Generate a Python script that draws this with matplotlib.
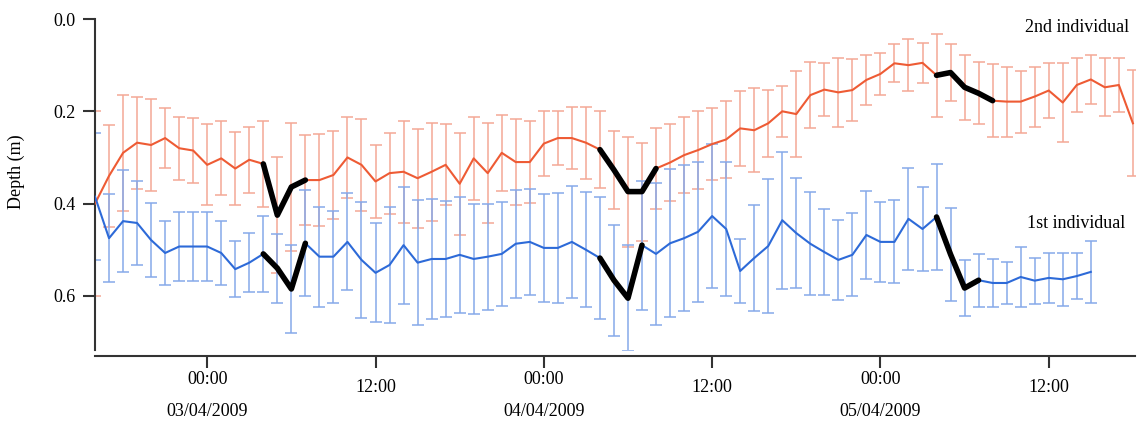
import matplotlib
matplotlib.use("Agg")
import matplotlib.pyplot as plt
import numpy as np

# ---------------- data (hourly, starting 16:00 02/04/2009) ----------------
red_mean = [0.40, 0.34, 0.29, 0.268, 0.273, 0.258, 0.28, 0.285, 0.316, 0.302,
            0.324, 0.305, 0.314, 0.425, 0.364, 0.349, 0.349, 0.338, 0.30, 0.316,
            0.352, 0.334, 0.331, 0.345, 0.331, 0.316, 0.357, 0.302, 0.334, 0.29,
            0.31, 0.31, 0.27, 0.258, 0.258, 0.268, 0.283, 0.327, 0.374, 0.374,
            0.324, 0.311, 0.295, 0.284, 0.271, 0.261, 0.237, 0.241, 0.226, 0.20,
            0.206, 0.165, 0.153, 0.159, 0.154, 0.132, 0.119, 0.096, 0.10, 0.095,
            0.122, 0.116, 0.148, 0.161, 0.177, 0.179, 0.179, 0.168, 0.155, 0.181,
            0.143, 0.131, 0.148, 0.143, 0.226]
red_err = [0.20, 0.11, 0.125, 0.10, 0.10, 0.065, 0.068, 0.07, 0.088, 0.08,
           0.08, 0.072, 0.094, 0.125, 0.138, 0.098, 0.10, 0.095, 0.088, 0.10,
           0.08, 0.088, 0.11, 0.107, 0.106, 0.088, 0.111, 0.09, 0.109, 0.082,
           0.093, 0.088, 0.07, 0.058, 0.068, 0.078, 0.083, 0.084, 0.119, 0.106,
           0.087, 0.083, 0.083, 0.084, 0.078, 0.084, 0.081, 0.091, 0.072, 0.055,
           0.094, 0.071, 0.057, 0.074, 0.067, 0.054, 0.046, 0.041, 0.056, 0.044,
           0.09, 0.062, 0.07, 0.067, 0.079, 0.076, 0.067, 0.065, 0.06, 0.086,
           0.058, 0.054, 0.063, 0.058, 0.115]

blue_mean = [0.385, 0.475, 0.438, 0.442, 0.479, 0.507, 0.493, 0.493, 0.493, 0.507,
             0.542, 0.528, 0.509, 0.54, 0.585, 0.486, 0.515, 0.515, 0.483, 0.522,
             0.55, 0.533, 0.49, 0.528, 0.52, 0.52, 0.511, 0.52, 0.515, 0.509,
             0.487, 0.483, 0.496, 0.496, 0.483, 0.50, 0.518, 0.566, 0.605, 0.49,
             0.509, 0.486, 0.475, 0.461, 0.427, 0.455, 0.546, 0.518, 0.492, 0.436,
             0.464, 0.487, 0.505, 0.522, 0.511, 0.468, 0.483, 0.483, 0.433, 0.455,
             0.429, 0.51, 0.583, 0.566, 0.572, 0.572, 0.559, 0.567, 0.561, 0.564,
             0.557, 0.548]
blue_err = [0.137, 0.095, 0.11, 0.09, 0.08, 0.07, 0.074, 0.074, 0.075, 0.07,
            0.06, 0.064, 0.083, 0.075, 0.095, 0.115, 0.108, 0.10, 0.105, 0.125,
            0.107, 0.126, 0.127, 0.135, 0.13, 0.125, 0.125, 0.12, 0.115, 0.112,
            0.117, 0.115, 0.117, 0.12, 0.122, 0.125, 0.133, 0.12, 0.115, 0.14,
            0.154, 0.16, 0.158, 0.152, 0.156, 0.146, 0.07, 0.115, 0.146, 0.148,
            0.119, 0.112, 0.093, 0.087, 0.09, 0.095, 0.087, 0.09, 0.11, 0.092,
            0.115, 0.10, 0.06, 0.057, 0.052, 0.046, 0.064, 0.05, 0.054, 0.058,
            0.05, 0.067]

red_highlight = [(12, 15), (36, 40), (60, 64)]
blue_highlight = [(12, 15), (36, 39), (60, 63)]

tick_hours = [8, 20, 32, 44, 56, 68]
tick_times = ["00:00", "12:00", "00:00", "12:00", "00:00", "12:00"]
tick_dates = ["03/04/2009", "", "04/04/2009", "", "05/04/2009", ""]
y_ticks = [0.0, 0.2, 0.4, 0.6]
y_ticklabels = ["0.0", "0.2", "0.4", "0.6"]

# ---------------- figure ----------------
plt.rcParams['font.family'] = ['Liberation Serif', 'DejaVu Serif']
W, H = 1138, 424
fig = plt.figure(figsize=(W / 100, H / 100), dpi=100)
ax = fig.add_axes([95 / W, 1 - 350 / H, (1135 - 95) / W, (350 - 19) / H])

xr = np.arange(len(red_mean))
xb = np.arange(len(blue_mean))

red_line = "#EE5B34"
red_bar = "#F4A896"
blue_line = "#2D6AD8"
blue_bar = "#86A9EA"

ax.errorbar(xr, red_mean, yerr=red_err, fmt='none', ecolor=red_bar,
            elinewidth=1.1, capsize=4, capthick=1.1, zorder=2)
ax.errorbar(xb, blue_mean, yerr=blue_err, fmt='none', ecolor=blue_bar,
            elinewidth=1.1, capsize=4, capthick=1.1, zorder=2)
ax.plot(xr, red_mean, color=red_line, lw=1.5, zorder=3)
ax.plot(xb, blue_mean, color=blue_line, lw=1.5, zorder=3)

for s, e in red_highlight:
    ax.plot(xr[s:e + 1], red_mean[s:e + 1], color='black', lw=4,
            solid_capstyle='round', solid_joinstyle='round', zorder=4)
for s, e in blue_highlight:
    ax.plot(xb[s:e + 1], blue_mean[s:e + 1], color='black', lw=4,
            solid_capstyle='round', solid_joinstyle='round', zorder=4)

ax.set_xlim(0, 74.15)
ax.set_ylim((350 - 19) / 461.5, 0.0)

for sp in ['top', 'right']:
    ax.spines[sp].set_visible(False)
for sp in ['left', 'bottom']:
    ax.spines[sp].set_color('#333333')
    ax.spines[sp].set_linewidth(1.5)
ax.spines['bottom'].set_position(('outward', 4.3))

ax.set_yticks(y_ticks)
ax.set_yticklabels(y_ticklabels, fontsize=13)
ax.tick_params(axis='y', direction='out', length=9, width=1.5, color='#333333', pad=5)

ax.set_xticks(tick_hours)
ax.set_xticklabels([""] * len(tick_hours))
ax.tick_params(axis='x', direction='out', length=8.5, width=1.5, color='#333333')

for h, t, d in zip(tick_hours, tick_times, tick_dates):
    dy = 29 if t == "00:00" else 38
    ax.annotate(t, xy=(h, 0), xycoords=('data', 'axes fraction'),
                xytext=(0, -dy), textcoords='offset pixels',
                ha='center', va='center', fontsize=13)
    if d:
        ax.annotate(d, xy=(h, 0), xycoords=('data', 'axes fraction'),
                    xytext=(0, -61), textcoords='offset pixels',
                    ha='center', va='center', fontsize=13)

fig.text(16 / W, 1 - 172 / H, "Depth (m)", rotation=90, ha='center', va='center', fontsize=13)
fig.text(1077 / W, 1 - 28 / H, "2nd individual", ha='center', va='center', fontsize=13)
fig.text(1076 / W, 1 - 223 / H, "1st individual", ha='center', va='center', fontsize=13)

fig.savefig("out.png", dpi=100)
